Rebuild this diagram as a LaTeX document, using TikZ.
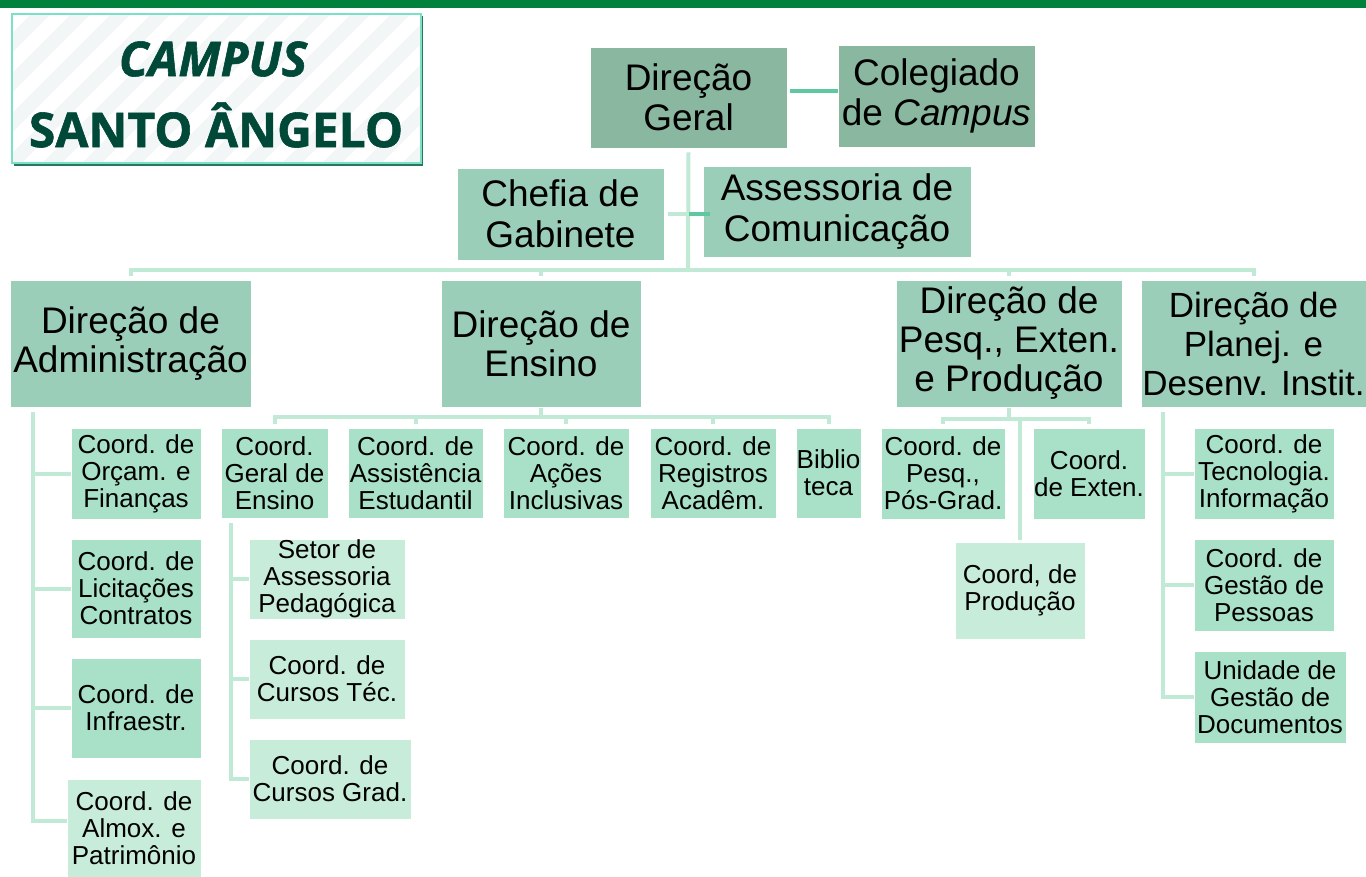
\documentclass[tikz,border=0pt]{standalone}
\usepackage{fontspec}
\setmainfont{Liberation Sans}
\newfontfamily\titlefont{Open Sans}[BoldFeatures={FakeBold=1.2},BoldItalicFeatures={FakeBold=1.2}]
\definecolor{barGreen}{RGB}{0,130,60}
\definecolor{titleGreen}{RGB}{0,72,56}
\definecolor{frameLight}{RGB}{122,224,198}
\definecolor{frameDark}{RGB}{40,120,92}
\definecolor{stripeGray}{RGB}{243,246,246}
\definecolor{fillA}{RGB}{137,183,160}
\definecolor{fillB}{RGB}{155,206,184}
\definecolor{fillC}{RGB}{168,224,200}
\definecolor{fillD}{RGB}{200,236,218}
\definecolor{connLight}{RGB}{192,233,214}
\definecolor{connDark}{RGB}{96,200,160}
\tikzset{
  box/.style={draw=white, line width=0.6pt, inner sep=0pt, align=center, text=black},
  lvA/.style={box, fill=fillA, font=\fontsize{37}{40}\selectfont},
  lvB/.style={box, fill=fillB, font=\fontsize{37}{41}\selectfont},
  lvDir/.style={box, fill=fillB, font=\fontsize{37}{39}\selectfont},
  lvC/.style={box, fill=fillC, font=\fontsize{26}{27}\selectfont},
  lvD/.style={box, fill=fillD, font=\fontsize{26}{27}\selectfont},
  conn/.style={draw=connLight, line width=4pt},
  conndark/.style={draw=connDark, line width=4pt},
}
\begin{document}
\begin{tikzpicture}[x=1pt,y=-1pt]
\useasboundingbox (0,0) rectangle (1366,877);
\fill[white] (0,0) rectangle (1366,877);
% top bar
\fill[barGreen] (0,0) rectangle (1366,8);
% title box
\begin{scope}
\clip (12,14) rectangle (421,163);
\fill[white] (12,14) rectangle (421,163);
\foreach \i in {-200,-160,...,460} {
  \draw[stripeGray, line width=14pt] (\i,175) -- (\i+175,0);
}
\end{scope}
\draw[frameDark, line width=2.5pt] (422,16) -- (422,165) -- (14,165);
\draw[frameLight, line width=2pt] (12,14) rectangle (421,163);
\node[font=\titlefont\bfseries\itshape\fontsize{48}{50}\selectfont, text=titleGreen, inner sep=0pt] (tcampus) at (213,59) {CAMPUS};
\node[font=\titlefont\bfseries\fontsize{48}{50}\selectfont, text=titleGreen, inner sep=0pt] (tsanto) at (216,125) {SANTO ÂNGELO};

% top level
\node[lvA, minimum width=197pt, minimum height=101pt] (DG) at (688.5,97.5) {Direção\\Geral};
\node[lvA, minimum width=197pt, minimum height=102pt] (Col) at (936.5,96) {Colegiado\\de \textit{Campus}};
\node[lvB, minimum width=207pt, minimum height=92pt] (Chefia) at (560.5,214) {Chefia de\\Gabinete};
\node[lvB, minimum width=268pt, minimum height=91pt] (Assess) at (837,211.5) {Assessoria de\\Comunicação};

% direções
\node[lvDir, minimum width=241pt, minimum height=127pt] (Admin) at (130.5,343.5) {Direção de\\Administração};
\node[lvDir, minimum width=200pt, minimum height=127pt] (Ensino) at (541,343.5) {Direção de\\Ensino};
\node[lvDir, minimum width=226pt, minimum height=127pt] (Pesq) at (1009,343.5) {Direção de\\Pesq., Exten.\\e Produção};
\node[lvDir, font=\fontsize{35}{39}\selectfont, minimum width=225pt, minimum height=127pt] (Planej) at (1253.5,343.5) {Direção de\\Planej. e\\Desenv. Instit.};

% administração
\node[lvC, minimum width=130pt, minimum height=91pt] (Orcam) at (136,473.5) {Coord. de\\Orçam. e\\Finanças};
\node[lvC, minimum width=130pt, minimum height=99pt] (Licit) at (136,588.5) {Coord. de\\Licitações\\Contratos};
\node[lvC, minimum width=130pt, minimum height=100pt] (Infra) at (136,708) {Coord. de\\Infraestr.};
\node[lvD, minimum width=134pt, minimum height=98pt] (Almox) at (134,828) {Coord. de\\Almox. e\\Patrimônio};

% ensino
\node[lvC, minimum width=107pt, minimum height=90pt] (CGE) at (274.5,473) {Coord.\\Geral de\\Ensino};
\node[lvC, minimum width=135pt, minimum height=90pt] (Assist) at (415.5,473) {Coord. de\\Assistência\\Estudantil};
\node[lvC, minimum width=126pt, minimum height=90pt] (Acoes) at (566,473) {Coord. de\\Ações\\Inclusivas};
\node[lvC, minimum width=126pt, minimum height=90pt] (Regis) at (713,473) {Coord. de\\Registros\\Acadêm.};
\node[lvC, minimum width=65pt, minimum height=90pt] (Biblio) at (828.5,473) {Biblio\\teca};
\node[lvD, minimum width=156pt, minimum height=80pt] (Setor) at (327,579) {Setor de\\Assessoria\\Pedagógica};
\node[lvD, minimum width=156pt, minimum height=80pt] (CTec) at (327,679) {Coord. de\\Cursos Téc.};
\node[lvD, minimum width=162pt, minimum height=80pt] (CGrad) at (330,779) {Coord. de\\Cursos Grad.};

% pesquisa
\node[lvC, minimum width=124pt, minimum height=91pt] (CPesq) at (943,473.5) {Coord. de\\Pesq.,\\Pós-Grad.};
\node[lvC, minimum width=112pt, minimum height=91pt] (CExt) at (1089,473.5) {Coord.\\de Exten.};
\node[lvD, minimum width=130pt, minimum height=97pt] (CProd) at (1020,590.5) {Coord, de\\Produção};

% planejamento
\node[lvC, minimum width=140pt, minimum height=91pt] (CTI) at (1264,473.5) {Coord. de\\Tecnologia.\\Informação};
\node[lvC, minimum width=140pt, minimum height=92pt] (CGP) at (1264,585) {Coord. de\\Gestão de\\Pessoas};
\node[lvC, minimum width=152pt, minimum height=92pt] (UGD) at (1270,697) {Unidade de\\Gestão de\\Documentos};

% connectors top
\coordinate (busT) at (688,270);
\draw[conn] ([yshift=-4pt]DG.south) -- (busT);
\draw[conn] ([yshift=4pt]Admin.north) |- (busT) -| ([yshift=4pt]Planej.north);
\draw[conn] ([yshift=4pt]Ensino.north) -- (Ensino.north |- busT);
\draw[conn] ([yshift=4pt]Pesq.north) -- (Pesq.north |- busT);
\draw[conndark] ([xshift=3pt,yshift=6.5pt]DG.east) -- ([yshift=5pt]Col.west);
\draw[conn] ([xshift=4pt]Chefia.east) -- (Chefia.east -| DG.south);
\draw[conndark] (Chefia.east -| DG.south) -- ([xshift=7pt]Assess.west |- Chefia.east);

% administração connectors
\coordinate (admTop) at ([xshift=23pt,yshift=-5pt]Admin.south west);
\draw[conn] (admTop) |- (Orcam.west);
\draw[conn] (admTop) |- (Licit.west);
\draw[conn] (admTop) |- (Infra.west);
\draw[conn] (admTop) |- ([yshift=7pt]Almox.west);

% ensino connectors
\coordinate (ensBus) at (541,417);
\draw[conn] ([yshift=-1pt]Ensino.south) -- (ensBus);
\draw[conn] ([yshift=4pt]CGE.north) |- (ensBus) -| ([yshift=4pt]Biblio.north);
\draw[conn] ([yshift=4pt]Assist.north) -- (Assist.north |- ensBus);
\draw[conn] ([yshift=4pt]Acoes.north) -- (Acoes.north |- ensBus);
\draw[conn] ([yshift=4pt]Regis.north) -- (Regis.north |- ensBus);
\coordinate (cgeTop) at ([xshift=10pt,yshift=-5pt]CGE.south west);
\draw[conn] (cgeTop) |- (Setor.west);
\draw[conn] (cgeTop) |- (CTec.west);
\draw[conn] (cgeTop) |- (CGrad.west);

% pesquisa connectors
\coordinate (pesBus) at (1009,419);
\draw[conn] ([yshift=-1pt]Pesq.south) -- (pesBus);
\draw[conn] ([yshift=4pt]CPesq.north) |- (pesBus) -| ([yshift=4pt]CExt.north);
\draw[conn] ([yshift=2pt]CProd.north) -- (CProd.north |- pesBus);

% planejamento connectors
\coordinate (plaTop) at ([xshift=22pt,yshift=-5pt]Planej.south west);
\draw[conn] (plaTop) |- (CTI.west);
\draw[conn] (plaTop) |- (CGP.west);
\draw[conn] (plaTop) |- (UGD.west);
\end{tikzpicture}
\end{document}
